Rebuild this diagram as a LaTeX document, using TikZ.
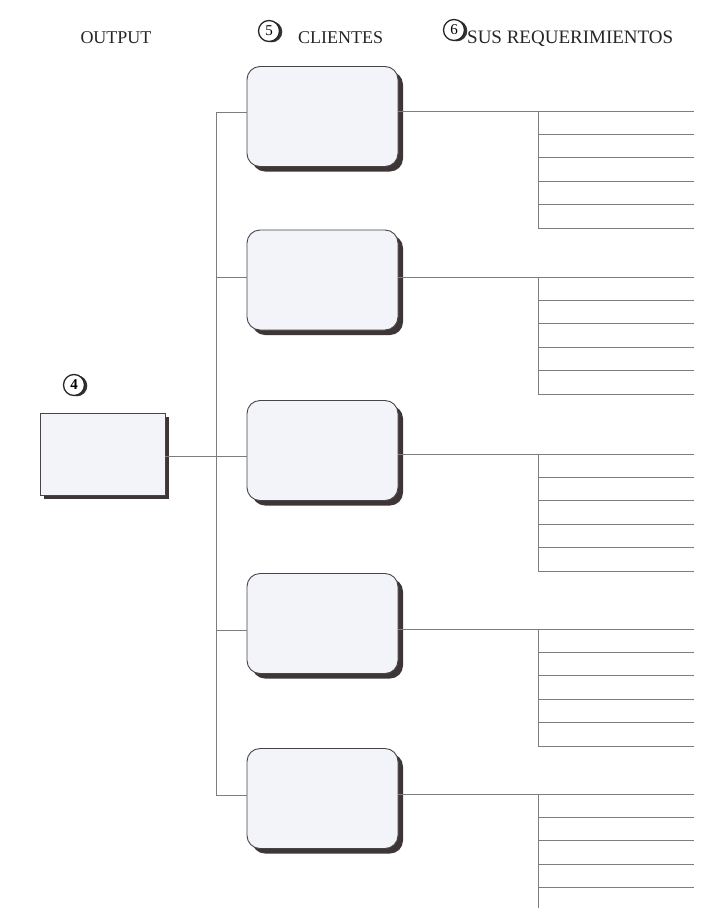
\documentclass[tikz,border=0pt]{standalone}
\usepackage{fontspec}
\setmainfont{Liberation Serif}
\usepackage{tikz}
\usetikzlibrary{shadows}

\definecolor{boxfill}{RGB}{243,243,250}
\definecolor{boxline}{RGB}{70,68,70}
\definecolor{shade}{RGB}{62,54,54}
\definecolor{linegray}{RGB}{125,125,125}

\tikzset{
  titulo/.style={font=\fontsize{18}{20}\selectfont, inner sep=0pt, text=black!85},
  numero/.style={circle, draw=black!85, line width=1.3pt, fill=white, inner sep=0pt,
    minimum size=21pt, font=\fontsize{15}{15}\selectfont,
    drop shadow={shadow xshift=2.8pt, shadow yshift=-0.8pt, fill=black!80, opacity=1}},
  salida/.style={draw=boxline, fill=boxfill, line width=0.9pt,
    minimum width=125pt, minimum height=82pt,
    drop shadow={shadow xshift=4pt, shadow yshift=-4pt, fill=shade, opacity=1}},
  cliente/.style={draw=boxline, fill=boxfill, line width=0.9pt, rounded corners=13pt,
    minimum width=151pt, minimum height=100pt,
    drop shadow={shadow xshift=5pt, shadow yshift=-5pt, fill=shade, opacity=1}},
  rama/.style={draw=linegray, line width=0.9pt}
}

\begin{document}
\begin{tikzpicture}[x=1pt,y=-1pt]
\useasboundingbox[fill=white] (0,0) rectangle (715,908);

% headers
\node[titulo] (tout) at (116,38) {OUTPUT};
\node[numero] (n5) at (269,31) {5};
\node[titulo,anchor=west] (tcli) at (298,38) {CLIENTES};
\node[numero] (n6) at (454,30) {6};
\node[titulo,anchor=west,font=\fontsize{19}{20}\selectfont] (treq) at (467,39) {SUS REQUERIMIENTOS};

% output
\node[numero,font=\fontsize{15}{15}\selectfont\bfseries] (n4) at (74,385) {4};
\node[salida] (out) at (102.5,454) {};

% clientes
\node[cliente] (cli1) at (322.5,116.5) {};
\node[cliente] (cli2) at (322.5,280) {};
\node[cliente] (cli3) at (322.5,450.5) {};
\node[cliente] (cli4) at (322.5,623.5) {};
\node[cliente] (cli5) at (322.5,798.5) {};

% spine
\coordinate (hub1) at (216,112);
\coordinate (hub2) at (216,277);
\coordinate (hub3) at (216,456);
\coordinate (hub4) at (216,630);
\coordinate (hub5) at (216,795);

\draw[rama] (hub1) -- (hub5);
\draw[rama] (out.east |- hub3) -- (hub3);
\draw[rama] (hub1) -- (hub1 -| cli1.west); %1
\draw[rama] (hub2) -- (hub2 -| cli2.west); %2
\draw[rama] (hub3) -- (hub3 -| cli3.west); %3
\draw[rama] (hub4) -- (hub4 -| cli4.west); %4
\draw[rama] (hub5) -- (hub5 -| cli5.west); %5

% requerimientos
\coordinate (tr1) at (538,111);
\coordinate (tr2) at (538,277);
\coordinate (tr3) at (538,454);
\coordinate (tr4) at (538,629);
\coordinate (tr5) at (538,794);

\draw[rama] (cli1.east |- tr1) -- (tr1);
\draw[rama] (cli2.east |- tr2) -- (tr2);
\draw[rama] (cli3.east |- tr3) -- (tr3);
\draw[rama] (cli4.east |- tr4) -- (tr4);
\draw[rama] (cli5.east |- tr5) -- (tr5);

\foreach \g/\y in {1/111,2/277,3/454,4/629}{
  \foreach \k in {0,...,5}
    \coordinate (req\g-\k) at (694,{\y+23.4*\k});
  \draw[rama] (tr\g) -- (tr\g |- req\g-5);
  \foreach \k in {0,...,5}
    \draw[rama] (tr\g |- req\g-\k) -- (req\g-\k);
}
\foreach \k in {0,...,4}
  \coordinate (req5-\k) at (694,{794+23.4*\k});
\coordinate (pie5) at (538,908);
\draw[rama] (tr5) -- (pie5);
\foreach \k in {0,...,4}
  \draw[rama] (tr5 |- req5-\k) -- (req5-\k);

\end{tikzpicture}
\end{document}
